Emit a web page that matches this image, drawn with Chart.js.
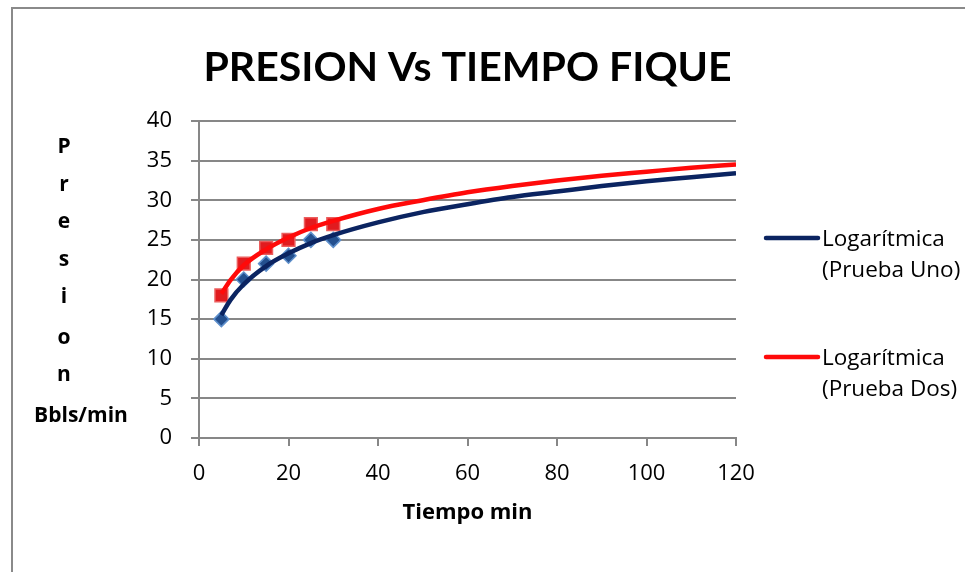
<!DOCTYPE html>
<html>
<head>
<meta charset="utf-8">
<script src="https://cdn.jsdelivr.net/npm/chart.js@4.4.0/dist/chart.umd.min.js"></script>
<style>
html,body{margin:0;padding:0;background:#fff;overflow:hidden;}
#wrap{position:absolute;left:0;top:0;width:965px;height:572px;}
</style>
</head>
<body>
<div id="wrap"><canvas id="c" width="965" height="572"></canvas></div>
<script>
// ---- data ----
const chartTitle = 'PRESION Vs TIEMPO FIQUE';
const xAxisTitle = 'Tiempo min';
const yAxisTitleLetters = ['P','r','e','s','i','o','n','Bbls/min'];
const tiempo = [5, 10, 15, 20, 25, 30];
const pruebaUno = [15, 20, 22, 23, 25, 25];
const pruebaDos = [18, 22, 24, 25, 27, 27];
// trend lines
const trendX   = [5, 7, 10, 15, 20, 25, 30, 40, 50, 60, 70, 80, 90, 100, 110, 120];
const trendUno = [15.5, 17.4, 19.4, 21.7, 23.3, 24.6, 25.6, 27.2, 28.5, 29.5, 30.4, 31.1, 31.8, 32.4, 32.9, 33.4];
const trendDos = [18.2, 19.9, 21.8, 23.8, 25.3, 26.5, 27.4, 28.9, 30.0, 31.0, 31.8, 32.5, 33.1, 33.6, 34.1, 34.5];
const legendLabels = [['Logarítmica','(Prueba Uno)'], ['Logarítmica','(Prueba Dos)']];
const xTicks = {min: 0, max: 120, step: 20};
const yTicks = {min: 0, max: 40, step: 5};

const navy = '#0B2461';
const red = '#FF0A0A';
const gridCol = '#878787';

const pts = (xs, ys) => xs.map((x, i) => ({x: x, y: ys[i]}));

const textPlugin = {
  id: 'texts',
  beforeDraw(chart) {
    const ctx = chart.ctx;
    ctx.save();
    ctx.strokeStyle = '#8a8a8a';
    ctx.lineWidth = 2;
    ctx.beginPath();
    ctx.moveTo(12, 575); ctx.lineTo(12, 8); ctx.lineTo(970, 8);
    ctx.stroke();
    ctx.restore();
  },
  afterDraw(chart) {
    const ctx = chart.ctx;
    const ca = chart.chartArea;
    ctx.save();
    ctx.fillStyle = '#000';
    // title
    ctx.font = 'bold 41px Lato';
    ctx.textAlign = 'center';
    ctx.textBaseline = 'alphabetic';
    ctx.fillText(chartTitle, (ca.left + ca.right) / 2, 81);
    // x title
    ctx.font = 'bold 22px "Open Sans"';
    ctx.textBaseline = 'middle';
    ctx.fillText(xAxisTitle, (ca.left + ca.right) / 2, 513);
    // y title stacked letters
    ctx.font = 'bold 21px "Open Sans"';
    const ys = [147, 185, 222, 260, 297, 338, 375];
    yAxisTitleLetters.forEach((t, i) => {
      if (i < ys.length) ctx.fillText(t, 64, ys[i]);
      else ctx.fillText(t, 81, 416);
    });
    // legend
    const cols = [navy, red];
    const ly = [238, 357];
    ctx.textAlign = 'left';
    ctx.textBaseline = 'alphabetic';
    ctx.font = '22.5px "Open Sans"';
    legendLabels.forEach((lines, i) => {
      ctx.strokeStyle = cols[i];
      ctx.lineWidth = 4.5;
      ctx.lineCap = 'round';
      ctx.beginPath();
      ctx.moveTo(766, ly[i]); ctx.lineTo(818, ly[i]);
      ctx.stroke();
      ctx.fillStyle = '#000';
      lines.forEach((l, j) => ctx.fillText(l, 822, ly[i] + 8 + j * 31));
    });
    ctx.restore();
  }
};

new Chart(document.getElementById('c'), {
  type: 'scatter',
  data: {
    datasets: [
      {label: 'Logarítmica (Prueba Uno)', data: pts(trendX, trendUno), showLine: true, borderColor: navy, borderWidth: 4.5, pointRadius: 0, cubicInterpolationMode: 'monotone', fill: false},
      {label: 'Logarítmica (Prueba Dos)', data: pts(trendX, trendDos), showLine: true, borderColor: red, borderWidth: 4.5, pointRadius: 0, cubicInterpolationMode: 'monotone', fill: false},
      {label: 'Prueba Uno', data: pts(tiempo, pruebaUno), pointStyle: 'rectRot', pointRadius: 7.5, backgroundColor: '#24508F', borderColor: '#5E8FCB', borderWidth: 1.5},
      {label: 'Prueba Dos', data: pts(tiempo, pruebaDos), pointStyle: 'rect', pointRadius: 9, backgroundColor: '#E11B1F', borderColor: '#EC5D5D', borderWidth: 1.5}
    ]
  },
  options: {
    responsive: false,
    animation: false,
    layout: {padding: {top: 121, right: 229, left: 0, bottom: 0}},
    plugins: {legend: {display: false}, title: {display: false}, tooltip: {enabled: false}},
    scales: {
      x: {
        type: 'linear', min: xTicks.min, max: xTicks.max,
        afterFit(s) { s.height = 134; },
        ticks: {stepSize: xTicks.step, color: '#000', font: {family: 'Open Sans', size: 22}, padding: 15, maxRotation: 0},
        grid: {drawOnChartArea: false, drawTicks: true, tickLength: 8, color: gridCol, lineWidth: 2},
        border: {color: gridCol, width: 2}
      },
      y: {
        min: yTicks.min, max: yTicks.max,
        afterFit(s) { s.width = 199; },
        ticks: {stepSize: yTicks.step, color: '#000', font: {family: 'Open Sans', size: 22}, padding: 19},
        grid: {color: gridCol, lineWidth: 2, tickLength: 8},
        border: {color: gridCol, width: 2}
      }
    }
  },
  plugins: [textPlugin]
});
</script>
</body>
</html>
